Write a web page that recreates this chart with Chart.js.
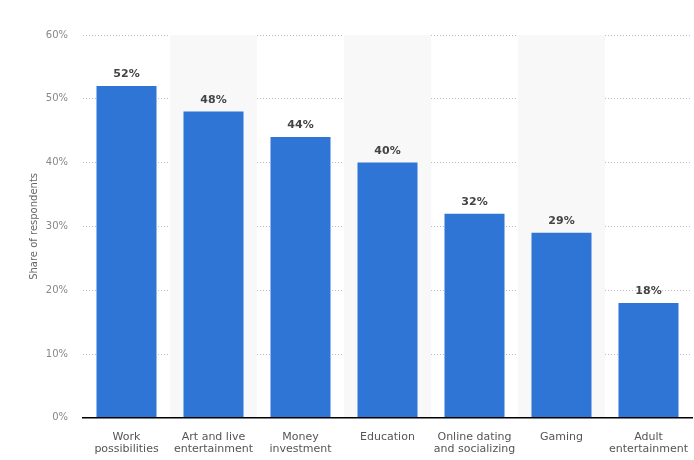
<!DOCTYPE html>
<html><head><meta charset="utf-8">
<script src="https://cdn.jsdelivr.net/npm/chart.js@4"></script>
<style>html,body{margin:0;padding:0;background:#fff}#w{width:694px;height:460px}</style>
</head><body><div id="w"><canvas id="c"></canvas></div>
<script>
const categories = [["Work","possibilities"],["Art and live","entertainment"],["Money","investment"],["Education"],["Online dating","and socializing"],["Gaming"],["Adult","entertainment"]];
const values = [52,48,44,40,32,29,18];
const yTicks = [0,10,20,30,40,50,60];

const bands = {id:'bands',beforeDatasetsDraw(ch){
  const {ctx,chartArea:a,scales:{x}}=ch;ctx.save();ctx.fillStyle='#f8f8f8';
  const w=(a.right-a.left)/categories.length;
  categories.forEach((c,i)=>{if(i%2===1){ctx.fillRect(x.getPixelForValue(i)-w/2,a.top,w,a.bottom-a.top);}});
  ctx.restore();}};
const labels = {id:'lbl',afterDatasetsDraw(ch){
  const {ctx}=ch;const m=ch.getDatasetMeta(0);ctx.save();
  ctx.font='bold 11px "DejaVu Sans", sans-serif';ctx.fillStyle='#444';ctx.textAlign='center';ctx.textBaseline='bottom';
  m.data.forEach((b,i)=>ctx.fillText(values[i]+'%',b.x,b.y-6));ctx.restore();}};

new Chart(document.getElementById('c'),{
  type:'bar',
  data:{labels:categories,datasets:[{data:values,backgroundColor:'#2f75d6',borderWidth:0,categoryPercentage:1,barPercentage:0.69}]},
  plugins:[bands,labels],
  options:{responsive:true,maintainAspectRatio:false,animation:false,
    layout:{padding:{top:35,right:2,left:28,bottom:0}},
    plugins:{legend:{display:false},tooltip:{enabled:false}},
    scales:{
      x:{grid:{display:false},border:{display:true,color:'#000',width:1.5,z:1},
         ticks:{color:'#555',font:{family:'DejaVu Sans',size:11,lineHeight:1.1},maxRotation:0,autoSkip:false,padding:5}},
      y:{min:0,max:60,afterBuildTicks(s){s.ticks=yTicks.map(v=>({value:v}));},
         afterFit(s){s.width=55;},
         grid:{color:'#bbb',drawTicks:false},border:{display:false,dash:[1,2]},
         ticks:{color:'#888',font:{family:'DejaVu Sans',size:10},padding:15,callback:v=>v+'%'},
         title:{display:true,text:'Share of respondents',color:'#666',padding:0,font:{family:'DejaVu Sans',size:10}}}
    }}
});
</script></body></html>
